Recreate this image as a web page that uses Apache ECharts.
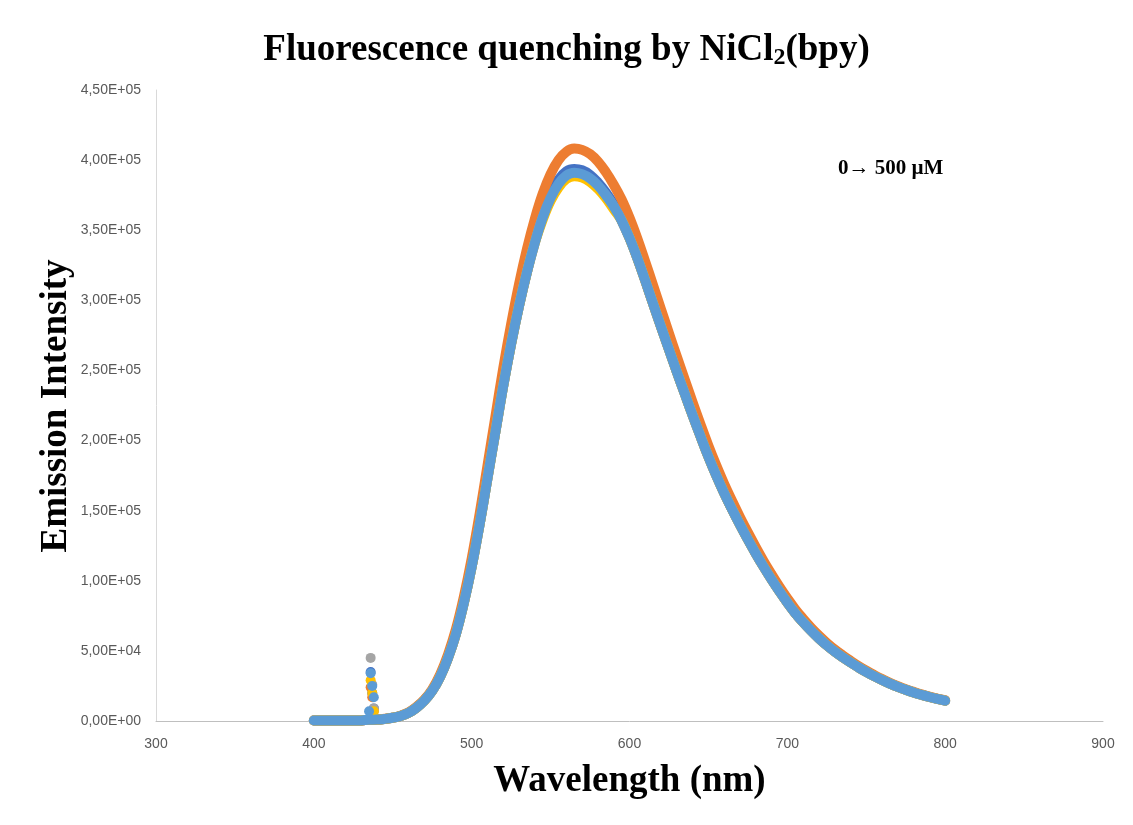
<!DOCTYPE html>
<html>
<head>
<meta charset="utf-8">
<script src="https://cdn.jsdelivr.net/npm/echarts@6/dist/echarts.min.js"></script>
<style>
html,body{margin:0;padding:0;background:#fff;}
#chart{width:1133px;height:825px;}
</style>
</head>
<body>
<div id="chart"></div>
<script>
// Wavelength grid (nm)
const wavelengths = [400,405,410,415,420,425,430,435,440,445,450,455,460,465,470,475,480,485,490,495,500,505,510,515,520,525,530,535,540,545,550,555,560,565,570,575,580,585,590,595,600,605,610,615,620,625,630,635,640,645,650,655,660,665,670,675,680,685,690,695,700,705,710,715,720,725,730,735,740,745,750,755,760,765,770,775,780,785,790,795,800];

// Series 1 (dark blue)
const seriesA = [300,300,300,300,300,300,400,900,1000,1500,2300,3600,5800,9500,14500,21500,31500,45000,62000,84000,110000,140000,173000,206000,239000,269000,296000,320000,342500,361000,375500,386000,392000,393700,392800,389500,384000,377000,368500,357000,344500,330000,314000,297500,281000,265000,249000,233500,218000,203000,188500,175000,162500,151000,140000,129500,119500,110000,101000,92500,84500,77000,70500,64500,59000,54000,49500,45500,41800,38300,35000,32000,29200,26700,24400,22300,20400,18700,17100,15700,14500];

// Series 2 (orange)
const seriesB = [300,300,300,300,300,300,400,900,1000,1600,2400,3800,6100,10000,15200,22600,33200,47400,65300,88400,115800,147400,182000,216800,251500,283000,311500,336500,358000,376000,390000,400000,406000,408200,407300,404300,399000,391500,382500,372000,359000,344000,327500,310500,293500,276500,259800,243500,227300,211500,196300,182200,169000,157000,145400,134500,124000,114000,104700,95800,87500,79700,72900,66600,60900,55700,51000,46900,43000,39300,35900,32800,29900,27300,24900,22700,20800,19000,17400,16000,14800];

// Series 3 (grey)
const seriesC = [300,300,300,300,300,300,400,900,1000,1500,2300,3600,5800,9500,14500,21500,31500,45000,62000,84000,110000,140000,173000,206000,239000,269000,296000,320000,341000,359000,372000,382000,388000,390000,389000,386000,381000,375000,367000,357000,344500,330000,314000,297500,281000,265000,249000,233500,218000,203000,188500,175000,162500,151000,140000,129500,119500,110000,101000,92500,84500,77000,70500,64500,59000,54000,49500,45500,41800,38300,35000,32000,29200,26700,24400,22300,20400,18700,17100,15700,14500];

// Series 4 (yellow)
const seriesD = [300,300,300,300,300,300,400,900,1000,1500,2300,3600,5800,9500,14500,21500,31500,45000,62000,84000,110000,140000,173000,206000,239000,269000,296000,320000,341000,357500,371000,380500,386500,388500,387500,384500,379500,373000,365000,357000,344500,330000,314000,297500,281000,265000,249000,233500,218000,203000,188500,175000,162500,151000,140000,129500,119500,110000,101000,92500,84500,77000,70500,64500,59000,54000,49500,45500,41800,38300,35000,32000,29200,26700,24400,22300,20400,18700,17100,15700,14500];

// Series 5 (light blue)
const seriesE = [300,300,300,300,300,300,400,900,1000,1500,2300,3600,5800,9500,14500,21500,31500,45000,62000,84000,110000,140000,173000,206000,239000,269000,296000,320000,341000,359000,373000,383000,389000,391000,390000,387000,382000,375000,367000,357000,344500,330000,314000,297500,281000,265000,249000,233500,218000,203000,188500,175000,162500,151000,140000,129500,119500,110000,101000,92500,84500,77000,70500,64500,59000,54000,49500,45500,41800,38300,35000,32000,29200,26700,24400,22300,20400,18700,17100,15700,14500];

// Scatter spike near 435 nm for each series: [wavelength, intensity]
const spikeA = [[436,35000],[437,20000],[438,9000]];
const spikeB = [[436,24000],[437,17000],[438,7000]];
const spikeC = [[436,45000],[437,26000],[438,9000]];
const spikeD = [[436,29000],[437,20000],[438,7000]];
const spikeE = [[435,7000],[436,34000],[437,25000],[438,17000]];

const xTickLabels = ['300','400','500','600','700','800','900'];
const yTickLabels = ['0,00E+00','5,00E+04','1,00E+05','1,50E+05','2,00E+05','2,50E+05','3,00E+05','3,50E+05','4,00E+05','4,50E+05'];

const colors = ['#4472C4','#ED7D31','#A5A5A5','#FFC000','#5B9BD5'];
const lineData = [seriesA, seriesB, seriesC, seriesD, seriesE];
const spikeData = [spikeA, spikeB, spikeC, spikeD, spikeE];

const series = [];
lineData.forEach((arr, i) => {
  series.push({
    type: 'line',
    data: wavelengths.map((w, j) => [w, arr[j]]),
    showSymbol: false,
    smooth: 0.4,
    lineStyle: {color: colors[i], width: 10, cap: 'round', join: 'round'},
    itemStyle: {color: colors[i]},
    z: 2 + i * 2,
    silent: true
  });
  series.push({
    type: 'scatter',
    data: spikeData[i],
    symbolSize: 10,
    itemStyle: {color: colors[i], opacity: 1},
    z: 3 + i * 2,
    silent: true
  });
});

const chart = echarts.init(document.getElementById('chart'), null, {renderer: 'canvas'});
chart.setOption({
  animation: false,
  backgroundColor: '#ffffff',
  title: {
    text: 'Fluorescence quenching by NiCl{sub|2}(bpy)',
    left: 'center',
    top: 25,
    textStyle: {
      fontFamily: 'Liberation Serif',
      fontWeight: 'bold',
      fontSize: 37,
      color: '#000',
      rich: {
        sub: {fontFamily: 'Liberation Serif', fontWeight: 'bold', fontSize: 24, color: '#000', verticalAlign: 'bottom', padding: [16, 0, 0, 0]}
      }
    }
  },
  grid: {left: 156, right: 30, top: 90, bottom: 104, containLabel: false},
  xAxis: {
    type: 'value',
    min: 300, max: 900, interval: 100,
    name: 'Wavelength (nm)',
    nameLocation: 'middle',
    nameGap: 42,
    nameTextStyle: {fontFamily: 'Liberation Serif', fontWeight: 'bold', fontSize: 37, color: '#000'},
    axisLine: {show: true, lineStyle: {color: '#BFBFBF', width: 1}},
    axisTick: {show: false},
    splitLine: {show: false},
    axisLabel: {
      color: '#595959', fontFamily: 'Liberation Sans', fontSize: 14, margin: 16,
      formatter: (v) => xTickLabels[Math.round((v - 300) / 100)]
    }
  },
  yAxis: {
    type: 'value',
    min: 0, max: 450000, interval: 50000,
    axisLine: {show: true, lineStyle: {color: '#D9D9D9', width: 1}},
    axisTick: {show: false},
    splitLine: {show: false},
    axisLabel: {
      color: '#595959', fontFamily: 'Liberation Sans', fontSize: 14, margin: 15,
      formatter: (v) => yTickLabels[Math.round(v / 50000)]
    }
  },
  graphic: [{
    type: 'text',
    left: 838,
    top: 158,
    style: {text: '0\u2192 500 \u00B5M', fontFamily: 'Liberation Serif', fontWeight: 'bold', fontSize: 21, fill: '#000'}
  }, {
    type: 'text',
    x: 56,
    y: 406,
    rotation: Math.PI / 2,
    style: {text: 'Emission Intensity', fontFamily: 'Liberation Serif', fontWeight: 'bold', fontSize: 37, fill: '#000', align: 'center', verticalAlign: 'middle'}
  }],
  series: series
});
</script>
</body>
</html>
